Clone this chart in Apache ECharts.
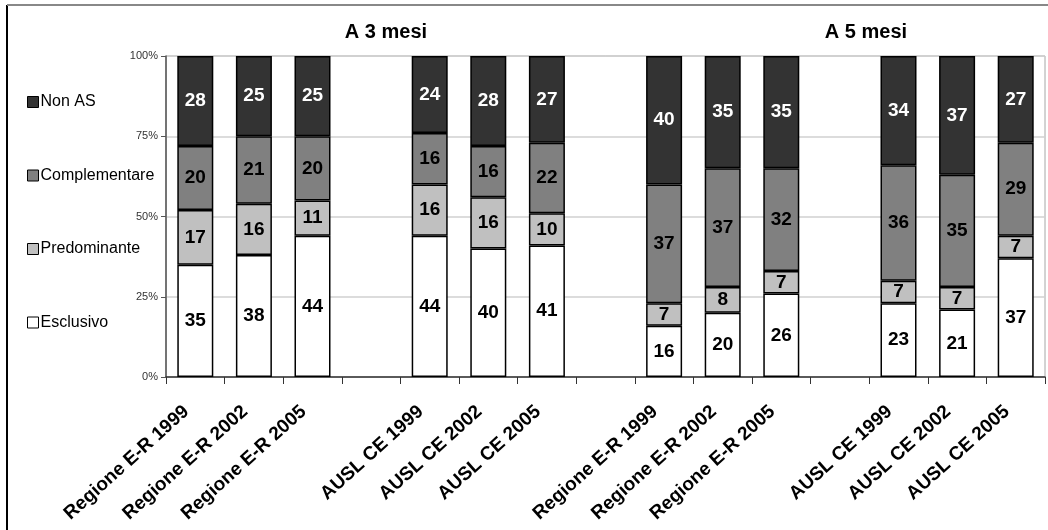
<!DOCTYPE html>
<html>
<head>
<meta charset="utf-8">
<script src="https://cdn.jsdelivr.net/npm/echarts@6/dist/echarts.min.js"></script>
<style>
html, body { margin: 0; padding: 0; background: #fff; }
#chart { width: 1048px; height: 530px; }
</style>
</head>
<body>
<div id="chart"></div>
<script>
// categorie (gli spazi vuoti separano i gruppi)
const categories = [
    'Regione E-R 1999', 'Regione E-R 2002', 'Regione E-R 2005', '',
    'AUSL CE 1999', 'AUSL CE 2002', 'AUSL CE 2005', '',
    'Regione E-R 1999', 'Regione E-R 2002', 'Regione E-R 2005', '',
    'AUSL CE 1999', 'AUSL CE 2002', 'AUSL CE 2005'
];
const esclusivo = [35, 38, 44, null, 44, 40, 41, null, 16, 20, 26, null, 23, 21, 37];
const predominante = [17, 16, 11, null, 16, 16, 10, null, 7, 8, 7, null, 7, 7, 7];
const complementare = [20, 21, 20, null, 16, 16, 22, null, 37, 37, 32, null, 36, 35, 29];
const nonAS = [28, 25, 25, null, 24, 28, 27, null, 40, 35, 35, null, 34, 37, 27];
const yTicks = [0, 25, 50, 75, 100];

const chart = echarts.init(document.getElementById('chart'));

// parte comune delle serie
const common = {
    type: 'bar',
    stack: 'total',
    barWidth: 36,
    itemStyle: { borderColor: '#000', borderWidth: 1.5 },
    label: {
        show: true,
        position: 'inside',
        fontFamily: 'Liberation Sans, Arial',
        fontWeight: 'bold',
        fontSize: 19,
        color: '#000'
    },
    emphasis: { disabled: true }
};

const mk = (name, data, color, labelColor) => Object.assign({}, common, {
    name: name,
    data: data,
    itemStyle: Object.assign({}, common.itemStyle, { color: color }),
    label: Object.assign({}, common.label, { color: labelColor })
});

const option = {
    animation: false,
    textStyle: { fontFamily: 'Liberation Sans, Arial' },
    grid: {
        left: 166, right: 3, top: 56, bottom: 153,
        show: true, borderColor: '#a6a6a6', borderWidth: 1
    },
    legend: {
        orient: 'vertical',
        left: 22,
        top: 89,
        itemGap: 57.5,
        itemWidth: 11,
        itemHeight: 11,
        icon: 'rect',
        data: ['Non AS', 'Complementare', 'Predominante', 'Esclusivo'],
        itemStyle: { borderColor: '#000', borderWidth: 1 },
        textStyle: { fontSize: 16, color: '#000', padding: [0, 0, 0, -3] }
    },
    graphic: [
        { type: 'line', shape: { x1: 7, y1: 5, x2: 7, y2: 530 }, style: { stroke: '#000', lineWidth: 2 } },
        { type: 'line', shape: { x1: 7, y1: 5, x2: 1048, y2: 5 }, style: { stroke: '#888', lineWidth: 2 } },
        { type: 'text', x: 386, y: 32, style: { text: 'A 3 mesi', font: 'bold 20px Liberation Sans, Arial', fill: '#000', textAlign: 'center', textVerticalAlign: 'middle' } },
        { type: 'text', x: 866, y: 32, style: { text: 'A 5 mesi', font: 'bold 20px Liberation Sans, Arial', fill: '#000', textAlign: 'center', textVerticalAlign: 'middle' } }
    ],
    xAxis: {
        type: 'category',
        data: categories,
        axisLine: { lineStyle: { color: '#333', width: 1.5 } },
        axisTick: { show: true, length: 7, interval: 0, lineStyle: { color: '#333' } },
        axisLabel: {
            interval: 0,
            rotate: 42,
            margin: 24,
            padding: [0, 12, 0, 0],
            fontSize: 19,
            fontWeight: 'bold',
            color: '#000'
        }
    },
    yAxis: {
        type: 'value',
        min: 0,
        max: 100,
        interval: 25,
        axisLine: { show: true, lineStyle: { color: '#555', width: 1.5 } },
        axisTick: { show: true, length: 5, inside: false, lineStyle: { color: '#555' } },
        axisLabel: {
            fontSize: 11,
            color: '#333',
            margin: 8,
            formatter: v => (yTicks.indexOf(v) >= 0 ? v + '%' : '')
        },
        splitLine: { show: true, lineStyle: { color: '#d0d0d0', width: 1.5 } }
    },
    series: [
        mk('Esclusivo', esclusivo, '#ffffff', '#000'),
        mk('Predominante', predominante, '#c0c0c0', '#000'),
        mk('Complementare', complementare, '#808080', '#000'),
        mk('Non AS', nonAS, '#333333', '#fff')
    ]
};

chart.setOption(option);
</script>
</body>
</html>
